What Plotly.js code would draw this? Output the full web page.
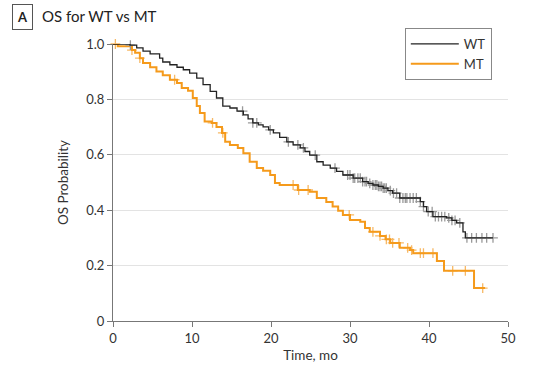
<!DOCTYPE html>
<html><head><meta charset="utf-8">
<script src="https://cdn.plot.ly/plotly-3.0.1.min.js"></script>
<style>html,body{margin:0;padding:0;background:#fff}#c{width:553px;height:368px}</style>
</head><body><div id="c"></div>
<script>
// WT step curve (time in months, survival probability)
const wtTime = [0, 2.15, 3.0, 3.8, 4.7, 5.9, 6.3, 7.2, 8.1, 8.9, 9.7, 10.6, 11.4, 12.3, 13.1, 13.9, 14.8, 15.7, 16.5, 17.1, 17.7, 18.4, 19.0, 19.7, 20.3, 21.1, 22.0, 22.8, 23.7, 24.3, 24.9, 25.8, 26.6, 27.5, 28.3, 29.1, 30.4, 31.6, 32.3, 32.9, 33.6, 34.2, 34.8, 35.4, 36.3, 37.6, 38.9, 39.3, 39.7, 40.5, 42.2, 42.9, 43.5, 44.3, 44.6];
const wtSurv = [1.0, 0.996, 0.986, 0.974, 0.964, 0.949, 0.935, 0.925, 0.916, 0.907, 0.895, 0.877, 0.853, 0.829, 0.805, 0.776, 0.769, 0.758, 0.744, 0.730, 0.715, 0.708, 0.701, 0.690, 0.679, 0.663, 0.647, 0.636, 0.625, 0.612, 0.599, 0.575, 0.563, 0.552, 0.540, 0.527, 0.516, 0.503, 0.497, 0.491, 0.486, 0.480, 0.471, 0.462, 0.444, 0.444, 0.431, 0.413, 0.395, 0.377, 0.372, 0.363, 0.354, 0.322, 0.300];
const wtEnd = 48.1;
const wtCensor = [2.2, 16.4, 17.7, 18.2, 19.9, 22.2, 23.4, 24.1, 25.6, 28.1, 29.7, 30.0, 30.4, 30.6, 31.0, 31.3, 31.6, 31.9, 32.1, 32.5, 32.9, 33.2, 33.4, 33.6, 33.8, 34.0, 34.2, 34.4, 34.6, 35.1, 35.5, 35.9, 36.3, 36.7, 37.0, 37.2, 37.6, 38.0, 38.4, 38.9, 39.3, 39.9, 40.4, 40.8, 41.2, 41.6, 42.0, 42.5, 42.9, 43.3, 43.9, 44.8, 45.4, 46.0, 46.7, 47.3, 48.1];

// MT step curve
const mtTime = [0, 0.6, 2.4, 2.8, 3.4, 3.8, 4.7, 5.5, 6.3, 7.2, 8.1, 8.7, 9.5, 10.1, 10.6, 11.0, 11.6, 12.5, 13.1, 13.8, 14.2, 14.8, 15.8, 16.5, 17.3, 18.2, 19.0, 19.9, 20.5, 21.1, 23.4, 24.9, 25.8, 27.0, 27.8, 28.5, 29.1, 30.0, 31.3, 31.9, 32.5, 33.8, 34.5, 35.1, 36.3, 37.6, 38.0, 41.0, 41.9, 45.7];
const mtSurv = [1.0, 0.992, 0.978, 0.968, 0.949, 0.931, 0.916, 0.901, 0.887, 0.871, 0.859, 0.841, 0.831, 0.805, 0.776, 0.751, 0.720, 0.715, 0.700, 0.679, 0.647, 0.635, 0.625, 0.606, 0.575, 0.552, 0.542, 0.527, 0.498, 0.491, 0.473, 0.467, 0.444, 0.430, 0.413, 0.398, 0.383, 0.365, 0.358, 0.336, 0.322, 0.307, 0.295, 0.282, 0.264, 0.256, 0.245, 0.217, 0.181, 0.119];
const mtEnd = 47.1;
const mtCensor = [0.3, 2.4, 3.4, 7.8, 12.6, 13.9, 22.8, 23.5, 24.7, 29.9, 32.9, 33.8, 34.6, 35.0, 35.4, 36.2, 37.3, 37.8, 38.9, 39.3, 40.5, 43.0, 44.6, 46.8];

function survAt(times, surv, t) {
  let s = surv[0];
  for (let i = 0; i < times.length; i++) { if (times[i] <= t) s = surv[i]; }
  return s;
}
function withEnd(times, surv, end) {
  return { x: times.concat([end]), y: surv.concat([surv[surv.length - 1]]) };
}
const wt = withEnd(wtTime, wtSurv, wtEnd);
const mt = withEnd(mtTime, mtSurv, mtEnd);

const traces = [
  { x: mtCensor, y: mtCensor.map(t => survAt(mtTime, mtSurv, t)), mode: 'markers', type: 'scatter', showlegend: false, hoverinfo: 'skip',
    marker: { symbol: 'cross-thin', size: 7, line: { color: '#f7b966', width: 1.3 } }, cliponaxis: false },
  { x: mt.x, y: mt.y, mode: 'lines', type: 'scatter', name: 'MT', legendrank: 2, line: { shape: 'hv', color: '#f59a1b', width: 2 }, cliponaxis: false },
  { x: wtCensor, y: wtCensor.map(t => survAt(wtTime, wtSurv, t)), mode: 'markers', type: 'scatter', showlegend: false, hoverinfo: 'skip',
    marker: { symbol: 'cross-thin', size: 7, line: { color: '#9a9a9a', width: 1.3 } }, cliponaxis: false },
  { x: wt.x, y: wt.y, mode: 'lines', type: 'scatter', name: 'WT', legendrank: 1, line: { shape: 'hv', color: '#222222', width: 1.3 }, cliponaxis: false }
];

const font = 'Lato, "Open Sans", sans-serif';
const layout = {
  width: 553, height: 368,
  margin: { l: 113, r: 45, t: 44, b: 47 },
  paper_bgcolor: '#fff', plot_bgcolor: '#fff',
  font: { family: font, size: 13, color: '#333' },
  showlegend: true,
  legend: { x: 0.959, xanchor: 'right', y: 1.058, yanchor: 'top', bgcolor: '#fff', bordercolor: '#888', borderwidth: 1,
    font: { size: 13, color: '#333' }, tracegroupgap: 0, itemwidth: 48 },
  xaxis: { range: [0, 50], tickvals: [0, 10, 20, 30, 40, 50], ticks: 'outside', ticklen: 5, tickcolor: '#777',
    showline: true, linecolor: '#777', linewidth: 1, showgrid: false, zeroline: false,
    tickfont: { size: 13, color: '#333' }, title: { text: 'Time, mo', font: { size: 13.5, color: '#333' }, standoff: 5 } },
  yaxis: { range: [0, 1], tickvals: [0, 0.2, 0.4, 0.6, 0.8, 1.0], ticktext: ['0', '0.2', '0.4', '0.6', '0.8', '1.0'],
    ticks: 'outside', ticklen: 5, tickcolor: '#777', showline: true, linecolor: '#777', linewidth: 1,
    showgrid: true, gridcolor: '#e3e3e3', gridwidth: 1, zeroline: false,
    tickfont: { size: 13, color: '#333' }, title: { text: 'OS Probability', font: { size: 13.5, color: '#333' }, standoff: 14 } },
  annotations: [
    { text: '<b>A</b>', xref: 'paper', yref: 'paper', x: (22 - 113) / 395, y: (368 - 47 - 17) / 277, xanchor: 'center', yanchor: 'middle',
      showarrow: false, font: { size: 13, color: '#222', family: font }, bordercolor: '#555', borderwidth: 1, borderpad: 4 },
    { text: 'OS for WT vs MT', xref: 'paper', yref: 'paper', x: (40 - 113) / 395, y: (368 - 47 - 16) / 277, xanchor: 'left', yanchor: 'middle',
      showarrow: false, font: { size: 15, color: '#222', family: font } }
  ]
};
Plotly.newPlot('c', traces, layout, { displayModeBar: false, staticPlot: true });
</script></body></html>
